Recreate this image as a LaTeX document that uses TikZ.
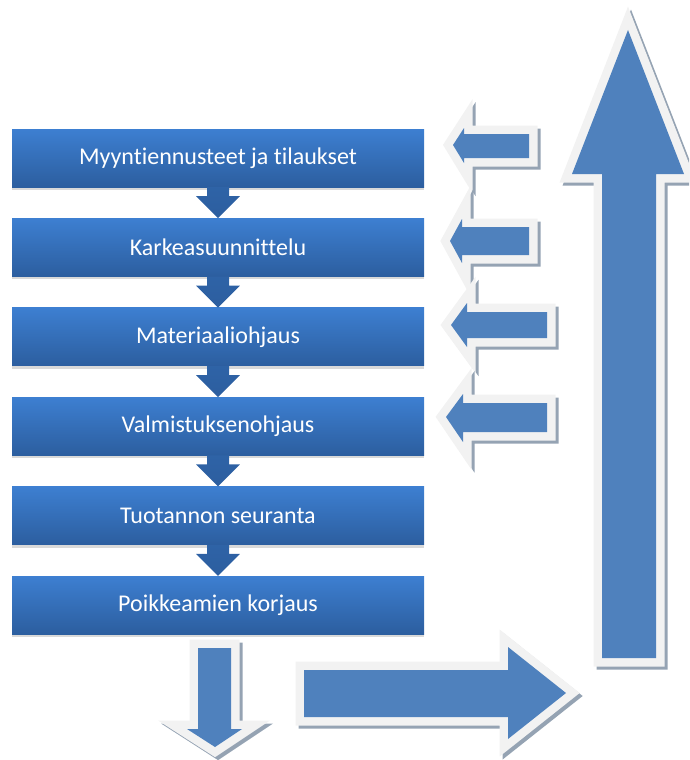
\documentclass[tikz,border=0pt]{standalone}
\usepackage{fontspec}
\setmainfont{Carlito}[Ligatures=NoCommon]
\usetikzlibrary{positioning,shadows}
\definecolor{boxtop}{HTML}{3D7FD1}
\definecolor{boxbot}{HTML}{2C5E9F}
\definecolor{arrowblue}{HTML}{4F81BD}
\definecolor{rimgray}{HTML}{F2F2F2}
\definecolor{shadegray}{HTML}{95A3B3}

\begin{document}
\begin{tikzpicture}[x=1pt,y=-1pt,node distance=31pt,
  stage/.style={minimum width=412pt,minimum height=58pt,inner sep=0pt,
    top color=boxtop,bottom color=boxbot,text=white,
    font=\fontsize{24}{28}\selectfont,
    drop shadow={opacity=0.3,shadow xshift=0pt,shadow yshift=-3pt}},
  chev/.style={top color=boxbot!85!boxtop,bottom color=boxbot},
  blockarrow/.style={fill=arrowblue,
    preaction={draw=shadegray,line width=17pt,
      transform canvas={shift={(3pt,-3pt)}}},
    preaction={draw=rimgray,line width=17pt}}]
  \useasboundingbox (0,0) rectangle (689,760);
  \clip (0,0) rectangle (689,760);
  % planning chain
  \node[stage] (b1) at (218,158) {Myyntiennusteet ja tilaukset};
  \node[stage,below=of b1] (b2) {Karkeasuunnittelu};
  \node[stage,below=of b2] (b3) {Materiaaliohjaus};
  \node[stage,below=of b3] (b4) {Valmistuksenohjaus};
  \node[stage,below=of b4] (b5) {Tuotannon seuranta};
  \node[stage,below=of b5] (b6) {Poikkeamien korjaus};
  \foreach \a/\b in {b1/b2,b2/b3,b3/b4,b4/b5,b5/b6}
    \path[chev] ([xshift=-11pt]\a.south) -- ++(0,9) -- ++(-11,0)
      -- (\b.north) -- ++(22,-22) -- ++(-11,0) -- ++(0,-9) -- cycle;
  % feedback arrows
  \path[blockarrow] (453,145) -- (464,128) -- (464,134) -- (529,134)
    -- (529,158) -- (464,158) -- (464,163) -- cycle;
  \path[blockarrow] (450,241) -- (462,219) -- (462,227) -- (529,227)
    -- (529,255) -- (462,255) -- (462,263) -- cycle;
  \path[blockarrow] (451,325) -- (467,303) -- (467,312) -- (547,312)
    -- (547,338) -- (467,338) -- (467,347) -- cycle;
  \path[blockarrow] (446,417) -- (463,394) -- (463,403) -- (547,403)
    -- (547,432) -- (463,432) -- (463,442) -- cycle;
  % big arrows
  \path[blockarrow] (198,648) -- (231,648) -- (231,729) -- (242,729)
    -- (215,747) -- (187,729) -- (198,729) -- cycle;
  \path[blockarrow] (304,670) -- (508,670) -- (508,647) -- (566,693)
    -- (508,739) -- (508,717) -- (304,717) -- cycle;
  \path[blockarrow] (628,30) -- (684,174) -- (656,174) -- (656,658)
    -- (602,658) -- (602,174) -- (572,174) -- cycle;
\end{tikzpicture}
\end{document}
